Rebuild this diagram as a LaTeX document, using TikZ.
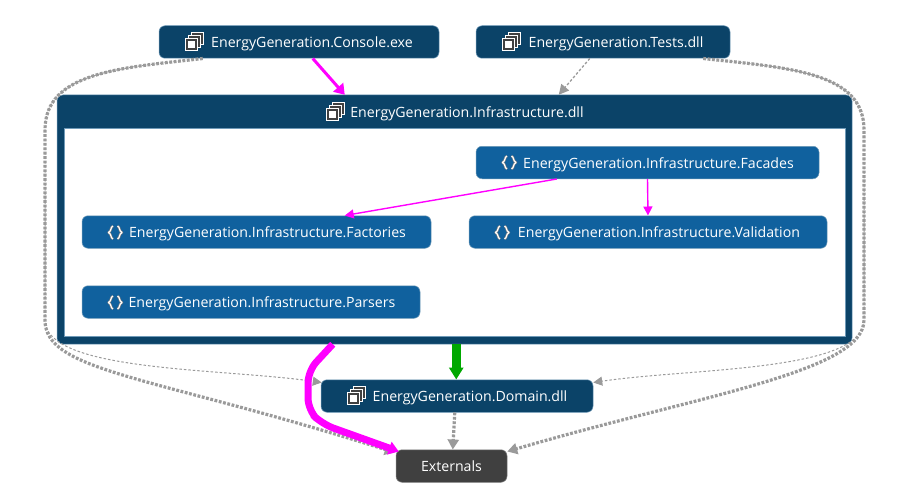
\documentclass[tikz,border=0pt]{standalone}
\usepackage{fontspec}
\setmainfont{Open Sans}
\usetikzlibrary{arrows.meta,calc}
\definecolor{asmblue}{HTML}{0B4368}
\definecolor{nsblue}{HTML}{10619E}
\definecolor{extgray}{HTML}{404040}
\definecolor{linkgray}{HTML}{9A9A9A}
\definecolor{rimblue}{HTML}{6F9AB8}
\definecolor{pinklink}{HTML}{FF00FF}
\definecolor{greenlink}{HTML}{00A800}
\tikzset{
  labeltext/.style={text=white,inner sep=0pt,font=\fontsize{14.15pt}{16pt}\selectfont,text height=11.4pt,text depth=0pt},
  boxbase/.style={labeltext,rounded corners=6pt,minimum height=32.5pt},
  asmbox/.style={boxbase,fill=asmblue,draw=rimblue,line width=.5pt},
  nsbox/.style={boxbase,fill=nsblue,draw=rimblue,line width=.5pt},
  extbox/.style={boxbase,fill=extgray,draw=gray,line width=.5pt},
  thickdot/.style={draw=linkgray,line width=3.2pt,dash pattern=on 2.8pt off 1.6pt,-{Triangle[length=10pt,width=11pt,fill=linkgray]}},
  middot/.style={draw=linkgray,line width=1.3pt,dash pattern=on 2.6pt off 2pt,-{Triangle[length=10pt,width=10pt,fill=linkgray]}},
  thindot/.style={draw=linkgray,line width=1pt,dash pattern=on 2.5pt off 2pt,-{Triangle[length=9pt,width=9pt,fill=linkgray]}},
  pinkline/.style={draw=pinklink,-{Triangle[length=10pt,width=13pt,fill=pinklink]}},
  asmicon/.pic={
    \foreach \d in {6,3,0}{
      \fill[white] (\d,6-\d) rectangle ++(13,13);
      \fill[extgray] (\d+.9,6-\d+.9) rectangle ++(11.2,11.2);
    }
    \fill[white] (3.2,9.2) rectangle ++(6.6,6.6);
  },
  nsicon/.pic={
    \foreach \w/\c in {2.4/gray,1.2/white}{
      \draw[\c,line width=\w pt,line join=round]
        (5.5,.5) .. controls (2.8,1.5) and (4.2,5.5) .. (1,7) .. controls (4.2,8.5) and (2.8,12.5) .. (5.5,13.5)
        (10,.5) .. controls (12.7,1.5) and (11.3,5.5) .. (14.5,7) .. controls (11.3,8.5) and (12.7,12.5) .. (10,13.5);
    }
  }
}
\begin{document}
\begin{tikzpicture}[x=1pt,y=-1pt]
\useasboundingbox (0,0) rectangle (919,503);
% Group
\node[fill=asmblue,draw=rimblue,line width=.5pt,rounded corners=6pt,minimum width=795pt,minimum height=249pt,inner sep=0pt] (infra) at (454.5,219.5) {};
\node[fill=white,draw=rimblue,line width=.4pt,minimum width=781pt,minimum height=208pt,inner sep=0pt] (inner) at (454.5,232) {};
\node[labeltext] (infratitle) at (467,112) {EnergyGeneration.Infrastructure.dll};
% Other nodes
\node[asmbox,minimum width=280pt] (console) at (299,42) {\hspace*{26pt}EnergyGeneration.Console.exe};
\node[asmbox,minimum width=254pt] (tests) at (603,42) {\hspace*{26pt}EnergyGeneration.Tests.dll};
\node[asmbox,minimum width=272pt] (domain) at (457,396) {\hspace*{26pt}EnergyGeneration.Domain.dll};
\node[extbox,minimum width=111pt] (ext) at (451.5,466) {Externals};
\node[nsbox,minimum width=343pt] (facades) at (647.5,162.5) {\hspace*{22pt}EnergyGeneration.Infrastructure.Facades};
\node[nsbox,minimum width=349pt] (factories) at (256.5,232) {\hspace*{22pt}EnergyGeneration.Infrastructure.Factories};
\node[nsbox,minimum width=358pt] (validation) at (648,232) {\hspace*{22pt}EnergyGeneration.Infrastructure.Validation};
\node[nsbox,minimum width=338pt] (parsers) at (251,302) {\hspace*{22pt}EnergyGeneration.Infrastructure.Parsers};
% Icons
\pic at (185,32) {asmicon};
\pic at (502,32) {asmicon};
\pic at (326,102) {asmicon};
\pic at (347,386) {asmicon};
\pic at (501.5,155.5) {nsicon};
\pic at (107.5,225.5) {nsicon};
\pic at (494.5,225.5) {nsicon};
\pic at (107.5,295.5) {nsicon};
% Long curved links
\path[thindot] ($(console.south west)+(44,0)$) .. controls (120,68) and (45,72) .. (45,130) -- (45,320)
  .. controls (45,372) and (220,368) .. ($(domain.north west)+(1,3)$);
\path[thickdot] ($(console.south west)+(44,0)$) .. controls (120,68) and (45,72) .. (45,130) -- (45,320)
  .. controls (45,372) and (150,375) .. ($(ext.north west)+(-1,3)$);
\path[thindot] ($(tests.south east)+(-27,0)$) .. controls (790,68) and (864,72) .. (864,130) -- (864,320)
  .. controls (864,372) and (690,368) .. ($(domain.north east)+(0,3)$);
\path[thickdot] ($(tests.south east)+(-27,0)$) .. controls (790,68) and (864,72) .. (864,130) -- (864,320)
  .. controls (864,372) and (700,395) .. ($(ext.north east)+(0,2)$);
% Straight links
\path[middot] ($(tests.south west)+(114,0)$) -- ($(infra.north west)+(502,0)$);
\path[thickdot] ($(domain.south west)+(134,0)$) -- ($(ext.north west)+(57,0)$);
\path[pinkline,line width=3pt] ($(console.south west)+(154,0)$) -- ($(infra.north west)+(288,0)$);
\path[pinkline,line width=1.4pt,-{Triangle[length=9pt,width=9pt,fill=pinklink]}] ($(facades.south west)+(81,0)$) -- ($(factories.north west)+(263,0)$);
\path[pinkline,line width=1.4pt,-{Triangle[length=9pt,width=9pt,fill=pinklink]}] (facades.south) -- (validation.north);
\path[draw=greenlink,line width=8.5pt,-{Triangle[length=12pt,width=14pt,fill=greenlink]}] ($(infra.south west)+(399.5,0)$) -- ($(domain.north west)+(135.5,0)$);
\path[pinkline,line width=7pt,line join=round,rounded corners=12pt] ($(infra.south west)+(276,0)$) -- (308,371) -- (308,410) -- (322,424) -- ($(ext.north west)+(3,2)$);
\end{tikzpicture}
\end{document}
